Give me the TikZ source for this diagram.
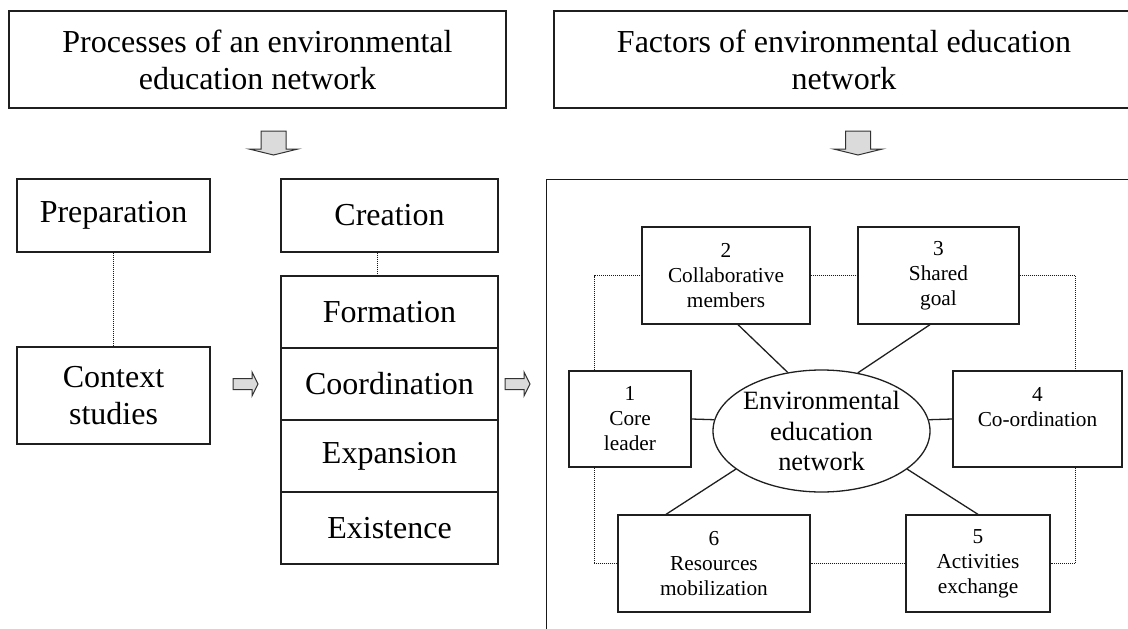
\documentclass[tikz,border=0pt]{standalone}
\usepackage{fontspec}
\setmainfont{Liberation Serif}
\usepackage{tikz}
\usetikzlibrary{positioning,shapes}

\begin{document}
\begin{tikzpicture}[x=1pt, y=-1pt]
		\tikzstyle{box} = [rectangle, draw=black!88, line width=1.3pt, align=center, inner sep=0pt, font=\fontsize{32}{37}\selectfont];
		\tikzstyle{cell} = [box, outer sep=0pt, minimum width=217pt, minimum height=72pt];
		\tikzstyle{factor} = [rectangle, draw=black!88, line width=1.3pt, fill=white, align=center, inner sep=0pt, font=\fontsize{21.3}{25}\selectfont];
		\tikzstyle{hub} = [ellipse, draw=black!88, line width=1.3pt, align=center, inner xsep=-2pt, inner ysep=0pt, minimum width=217pt, minimum height=122pt, font=\fontsize{26.4}{30.5}\selectfont];
		\tikzstyle{link} = [draw=black!88, line width=1.3pt];
		\tikzstyle{dots} = [draw=black!90, line width=1pt, dash pattern=on 1pt off 1pt];
		\tikzstyle{fat} = [draw=black!80, line width=1pt, fill=gray!28, line join=miter];
		
		\useasboundingbox (0,0) rectangle (1128,629);
		\clip (0,0) rectangle (1128,629);
		
		% headings
		\node[box, minimum width=497pt, minimum height=97pt](processes) at (257.5,59.5){Processes of an environmental \\ education network};
		\node[box, minimum width=580pt, minimum height=97pt](factors) at (844,59.5){Factors of environmental education \\ network};
		
		\draw[fat, shift={(273.5,143)}] (-12.5,-12) -- (12.5,-12) -- (12.5,6) -- (24.5,6) -- (0,12) -- (-24.5,6) -- (-12.5,6) -- cycle;
		\draw[fat, shift={(858,143)}] (-12.5,-12) -- (12.5,-12) -- (12.5,6) -- (24.5,6) -- (0,12) -- (-24.5,6) -- (-12.5,6) -- cycle;
		
		% processes
		\node[box, minimum width=193pt, minimum height=73pt](preparation) at (113.5,215.5){Preparation};
		\node[box, minimum width=193pt, minimum height=97pt](context) at (113.5,395.5){Context \\ studies};
		\node[box, minimum width=217pt, minimum height=73pt](creation) at (389.5,215.5){Creation};
		\node[cell](formation) at (389.5,312){Formation};
		\node[cell, below = 0pt of formation](coordination){Coordination};
		\node[cell, below = 0pt of coordination](expansion){Expansion};
		\node[cell, below = 0pt of expansion](existence){Existence};
		
		\path[dots] (preparation) edge (context)
		([xshift=-12pt]creation.south) edge ([xshift=-12pt]formation.north);
		
		\draw[fat, shift={(245.5,384)}] (-12.5,-5.5) -- (6.5,-5.5) -- (6.5,-12) -- (12.5,0) -- (6.5,12) -- (6.5,5.5) -- (-12.5,5.5) -- cycle;
		\draw[fat, shift={(517.5,384)}] (-12.5,-5.5) -- (6.5,-5.5) -- (6.5,-12) -- (12.5,0) -- (6.5,12) -- (6.5,5.5) -- (-12.5,5.5) -- cycle;
		
		% factors frame, cut by the page edge
		\draw[draw=black!90, line width=1.8pt] (1140,179.5) -| (546.5,640);
		\coordinate (dl) at (594,0);
		\coordinate (dr) at (1075,0);
		
		\node[factor, minimum width=122pt, minimum height=96pt](core leader) at (630,419){1 \\ Core \\ leader};
		\node[factor, minimum width=168pt, minimum height=97pt](members) at (726,275.5){2 \\ Collaborative \\ members};
		\node[factor, minimum width=161pt, minimum height=97pt](shared goal) at (938.5,275.5){3 \\ Shared \\ goal};
		\node[factor, minimum width=169pt, minimum height=96pt](coordinating) at (1037.5,419){4 \\ Co-ordination \\ ~};
		\node[factor, minimum width=144pt, minimum height=97pt](activities) at (978,563.5){5 \\ Activities \\ exchange};
		\node[factor, minimum width=192pt, minimum height=97pt](resources) at (714,563.5){6 \\ Resources \\ mobilization};
		\node[hub](network) at (821.5,431){Environmental \\ education \\ network};
		
		\draw[dots] (core leader.north -| dl) |- (members.west);
		\draw[dots] (members) -- (shared goal);
		\draw[dots] (shared goal.east) -| (coordinating.north -| dr);
		\draw[dots] (coordinating.south -| dr) |- (activities.east);
		\draw[dots] (activities) -- (resources);
		\draw[dots] (resources.west) -| (core leader.south -| dl);
		
		\path[link] (network.120) edge ([xshift=12pt]members.south)
		(network.58) edge ([xshift=-8.5pt]shared goal.south)
		(network.174) edge (core leader.east)
		(network.6) edge (coordinating.west)
		(network.204) edge ([xshift=-48pt]resources.north)
		(network.336) edge (activities.north);
\end{tikzpicture}
\end{document}
